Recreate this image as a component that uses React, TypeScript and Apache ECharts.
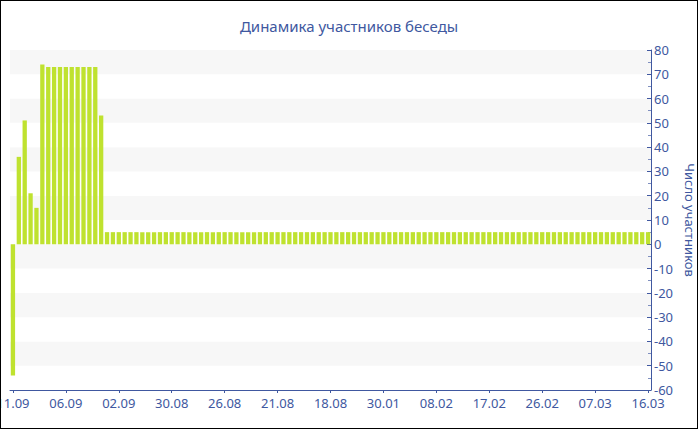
import React, { useEffect, useRef } from "react";
import * as echarts from "echarts";

const titleText = "Динамика участников беседы";
const yAxisName = "Число участников";

// Tick labels shown every 9th category
const tickLabels = [
  "11.09", "06.09", "02.09", "30.08", "26.08", "21.08", "18.08",
  "30.01", "08.02", "17.02", "26.02", "07.03", "16.03",
];

// Values per category (109 bars)
const participants = [
  -54, 36, 51, 21, 15, 74,
  73, 73, 73, 73, 73, 73, 73, 73, 73,
  53,
  5, 5, 5, 5, 5, 5, 5, 5, 5, 5,
  5, 5, 5, 5, 5, 5, 5, 5, 5, 5,
  5, 5, 5, 5, 5, 5, 5, 5, 5, 5,
  5, 5, 5, 5, 5, 5, 5, 5, 5, 5,
  5, 5, 5, 5, 5, 5, 5, 5, 5, 5,
  5, 5, 5, 5, 5, 5, 5, 5, 5, 5,
  5, 5, 5, 5, 5, 5, 5, 5, 5, 5,
  5, 5, 5, 5, 5, 5, 5, 5, 5, 5,
  5, 5, 5, 5, 5, 5, 5, 5, 5, 5,
  5, 5, 5,
];

const LABEL_STEP = 9;

const categories = participants.map((_, i) =>
  i % LABEL_STEP === 0 ? tickLabels[i / LABEL_STEP] : `#${i}`
);

const BLUE = "#4058a0";
const FONT = "Noto Sans";

export default function App() {
  const ref = useRef<HTMLDivElement>(null);

  useEffect(() => {
    document.body.style.margin = "0";
    if (!ref.current) return;
    const chart = echarts.init(ref.current, undefined, { renderer: "svg" });
    chart.setOption({
      animation: false,
      backgroundColor: "#ffffff",
      title: {
        text: titleText,
        left: "center",
        top: 12,
        textStyle: { color: BLUE, fontSize: 15, fontWeight: "normal", fontFamily: FONT },
      },
      grid: {
        left: 9,
        right: 46,
        top: 49,
        bottom: 38,
        containLabel: false,
        outerBoundsMode: "none",
      },
      xAxis: {
        type: "category",
        data: categories,
        boundaryGap: true,
        axisLine: { show: true, onZero: false, lineStyle: { color: BLUE, width: 1 } },
        axisTick: {
          show: true,
          alignWithLabel: true,
          interval: LABEL_STEP - 1,
          length: 3,
          lineStyle: { color: BLUE },
        },
        axisLabel: {
          interval: LABEL_STEP - 1,
          color: BLUE,
          fontSize: 13,
          fontFamily: FONT,
          margin: 6,
          hideOverlap: false,
        },
        splitLine: { show: false },
      },
      yAxis: {
        type: "value",
        position: "right",
        min: -60,
        max: 80,
        interval: 10,
        name: yAxisName,
        nameLocation: "middle",
        nameRotate: -90,
        nameGap: 30,
        nameTextStyle: { color: BLUE, fontSize: 13, fontFamily: FONT },
        axisLine: { show: true, lineStyle: { color: BLUE, width: 1 } },
        axisTick: { show: true, inside: true, length: 4, lineStyle: { color: BLUE } },
        minorTick: { show: true, splitNumber: 2, length: 3, lineStyle: { color: "#7f8fbf" } },
        axisLabel: { color: BLUE, fontSize: 13, fontFamily: FONT, margin: 3 },
        splitLine: { show: false },
        splitArea: { show: true, areaStyle: { color: ["#ffffff", "#f7f7f7"] } },
      },
      series: [
        {
          type: "bar",
          data: participants,
          barCategoryGap: "27%",
          itemStyle: { color: "#bfe22f" },
        },
      ],
    });
    return () => chart.dispose();
  }, []);

  return (
    <div
      style={{
        width: 698,
        height: 429,
        border: "1px solid #000",
        boxSizing: "border-box",
        background: "#fff",
      }}
    >
      <div ref={ref} style={{ width: 696, height: 427 }} />
    </div>
  );
}
